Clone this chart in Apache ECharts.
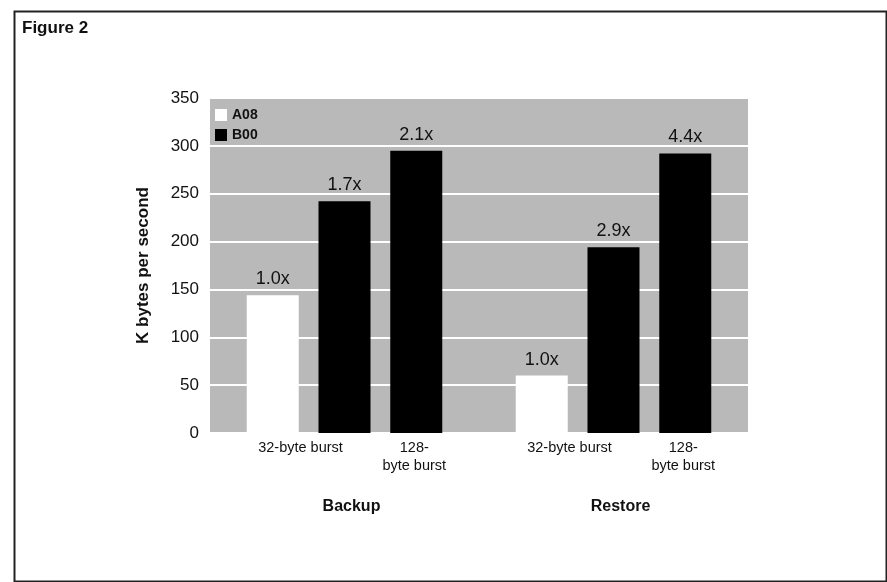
<!DOCTYPE html>
<html>
<head>
<meta charset="utf-8">
<script src="https://cdn.jsdelivr.net/npm/echarts@6/dist/echarts.min.js"></script>
<style>
html,body{margin:0;padding:0;background:#fff;}
#chart{width:887px;height:582px;}
</style>
</head>
<body>
<div id="chart"></div>
<script>
// ---- data ----
const groups = ['Backup', 'Restore'];
const seriesNames = ['A08', 'B00'];
const a08Values = [144, 60];
const b00Burst32 = [242, 194];
const b00Burst128 = [295, 292];
const a08Labels = ['1.0x', '1.0x'];
const b00Burst32Labels = ['1.7x', '2.9x'];
const b00Burst128Labels = ['2.1x', '4.4x'];
const burstNames = ['32-byte burst', '128-\nbyte burst'];
const yTicks = [0, 50, 100, 150, 200, 250, 300, 350];

const FONT = '"Liberation Sans", Arial, Helvetica, sans-serif';
const chart = echarts.init(document.getElementById('chart'), null, {renderer: 'canvas'});

const BW = 52;
const topLabel = (arr) => ({
  show: true, position: 'top', distance: 7,
  color: '#111', fontFamily: FONT, fontSize: 18,
  formatter: (p) => arr[p.dataIndex]
});
const bottomLabel = (text, dx) => ({
  show: true, position: 'bottom', distance: 6, offset: [dx, 0],
  color: '#111', fontFamily: FONT, fontSize: 14.5, lineHeight: 18,
  align: 'center', formatter: () => text
});

const option = {
  animation: false,
  backgroundColor: '#fff',
  title: {
    text: 'Figure 2', left: 17, top: 15,
    textStyle: {fontFamily: FONT, fontSize: 17, fontWeight: 'bold', color: '#111'}
  },
  legend: {
    data: seriesNames,
    orient: 'vertical', left: 210, top: 103,
    itemWidth: 12, itemHeight: 12, itemGap: 6,
    icon: 'rect',
    textStyle: {fontFamily: FONT, fontSize: 14, fontWeight: 'bold', color: '#111'}
  },
  grid: {
    left: 210, right: 139, top: 98, bottom: 149,
    show: true, backgroundColor: '#b9b9b9', borderWidth: 0
  },
  xAxis: {
    type: 'category', data: groups,
    axisLine: {show: false}, axisTick: {show: false},
    axisLabel: {
      margin: 66, padding: [0, 0, 0, 14],
      fontFamily: FONT, fontSize: 16, fontWeight: 'bold', color: '#111'
    }
  },
  yAxis: {
    type: 'value', min: 0, max: 350, interval: 50,
    name: 'K bytes per second', nameLocation: 'middle', nameGap: 58,
    nameTextStyle: {fontFamily: FONT, fontSize: 17, fontWeight: 'bold', color: '#111'},
    axisLine: {show: false}, axisTick: {show: false},
    axisLabel: {
      margin: 11, fontFamily: FONT, fontSize: 17, color: '#111',
      formatter: (v) => yTicks.includes(v) ? String(v) : ''
    },
    splitLine: {show: true, lineStyle: {color: '#ffffff', width: 2}}
  },
  series: [
    {
      name: seriesNames[0], type: 'bar', stack: 'a', data: a08Values,
      barWidth: BW, barGap: '38%',
      itemStyle: {color: '#ffffff'},
      label: topLabel(a08Labels)
    },
    {
      name: 'lbl32', type: 'bar', stack: 'b', data: groups.map(() => 0),
      barWidth: BW, barGap: '38%',
      itemStyle: {color: 'rgba(0,0,0,0)'},
      label: bottomLabel(burstNames[0], -44), silent: true
    },
    {
      name: seriesNames[1], type: 'bar', stack: 'b', data: b00Burst32,
      barWidth: BW, barGap: '38%',
      itemStyle: {color: '#000000'},
      label: topLabel(b00Burst32Labels)
    },
    {
      name: 'lbl128', type: 'bar', stack: 'c', data: groups.map(() => 0),
      barWidth: BW, barGap: '38%',
      itemStyle: {color: 'rgba(0,0,0,0)'},
      label: bottomLabel(burstNames[1], -2), silent: true
    },
    {
      name: seriesNames[1], type: 'bar', stack: 'c', data: b00Burst128,
      barWidth: BW, barGap: '38%',
      itemStyle: {color: '#000000'},
      label: topLabel(b00Burst128Labels)
    }
  ],
  graphic: [
    {
      type: 'rect', left: 12, top: 9, silent: true, z: -10,
      shape: {width: 872, height: 570},
      style: {fill: 'none', stroke: '#222', lineWidth: 2}
    }
  ]
};
chart.setOption(option);
</script>
</body>
</html>
